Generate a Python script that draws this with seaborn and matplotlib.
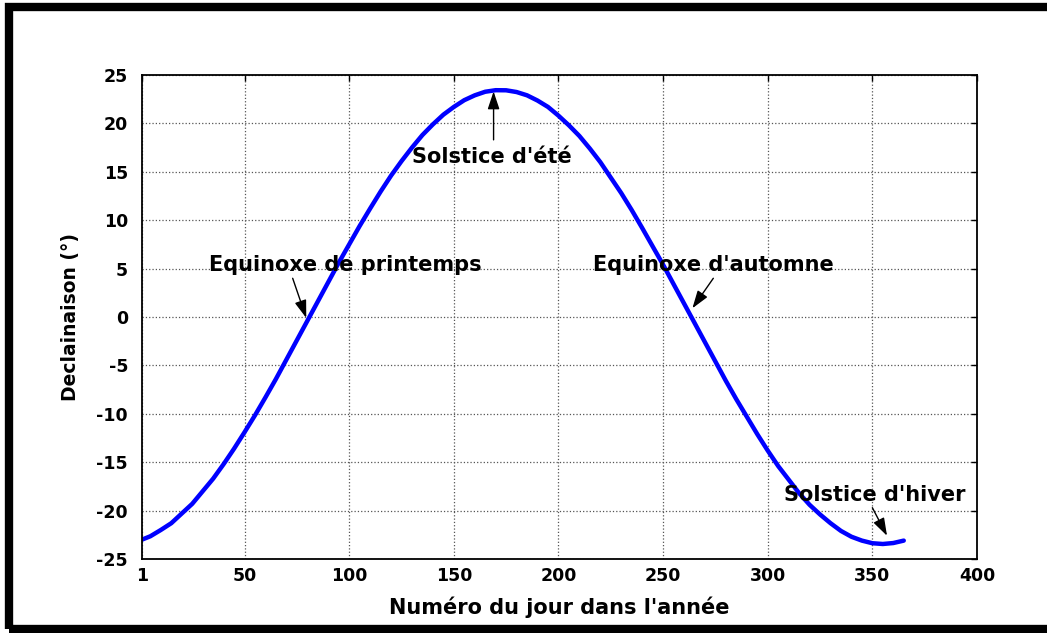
import matplotlib
matplotlib.use("Agg")
import matplotlib.pyplot as plt
import seaborn as sns
import pandas as pd
from matplotlib.patches import Rectangle

# Data (day of year, declination in degrees)
days = [1, 5, 10, 15, 20, 25, 30, 35, 40, 45, 50, 55, 60, 65, 70, 75, 80, 85,
        90, 95, 100, 105, 110, 115, 120, 125, 130, 135, 140, 145, 150, 155,
        160, 165, 170, 175, 180, 185, 190, 195, 200, 205, 210, 215, 220, 225,
        230, 235, 240, 245, 250, 255, 260, 265, 270, 275, 280, 285, 290, 295,
        300, 305, 310, 315, 320, 325, 330, 335, 340, 345, 350, 355, 360, 365]
declination = [-23.0, -22.65, -22.0, -21.3, -20.3, -19.3, -18.0, -16.7, -15.2,
               -13.6, -11.9, -10.15, -8.3, -6.4, -4.4, -2.4, -0.4, 1.6,
               3.6, 5.6, 7.5, 9.4, 11.2, 12.95, 14.6, 16.1, 17.5, 18.8, 19.9,
               20.9, 21.7, 22.4, 22.9, 23.27, 23.43, 23.42, 23.24, 22.9, 22.36,
               21.7, 20.8, 19.8, 18.7, 17.4, 16.0, 14.4,
               12.8, 11.05, 9.2, 7.3, 5.4, 3.4, 1.4, -0.6, -2.6, -4.6, -6.6,
               -8.5, -10.3, -12.1,
               -13.8, -15.4, -16.8, -18.2, -19.4, -20.4, -21.3, -22.1, -22.7,
               -23.1, -23.37, -23.45, -23.35, -23.1]
x_ticks = [1, 50, 100, 150, 200, 250, 300, 350, 400]
y_ticks = [-25, -20, -15, -10, -5, 0, 5, 10, 15, 20, 25]

ann_labels = ["Equinoxe de printemps", "Solstice d'été", "Equinoxe d'automne", "Solstice d'hiver"]
ann_text_xy = [(33, 5.4), (168, 16.5), (274, 5.4), (351, -18.4)]
ann_ha = ['left', 'center', 'center', 'center']
ann_tip_xy = [(79.5, -0.1), (169, 23.3), (264, 0.9), (357, -22.6)]
ann_tail_xy = [(73, 4.0), (169, 18.3), (274, 4.0), (350, -19.7)]

df = pd.DataFrame({"jour": days, "decl": declination})

sns.set_theme(style="white")
plt.rcParams['font.family'] = ['DejaVu Sans']
plt.rcParams['text.color'] = 'black'
plt.rcParams['axes.labelcolor'] = 'black'
plt.rcParams['xtick.color'] = 'black'
plt.rcParams['ytick.color'] = 'black'

fig = plt.figure(figsize=(10.47, 6.33), dpi=100)
ax = fig.add_axes([142/1047, 1 - 559/633, (977-142)/1047, (559-75)/633])

sns.lineplot(data=df, x="jour", y="decl", ax=ax, color="#0000ff", linewidth=3.2)

ax.set_xlim(1, 400)
ax.set_ylim(-25, 25)
ax.set_xticks(x_ticks)
ax.set_yticks(y_ticks)
ax.set_xticklabels([str(t) for t in x_ticks], fontsize=12.5, fontweight='bold')
ax.set_yticklabels([str(t) for t in y_ticks], fontsize=12.5, fontweight='bold')
ax.tick_params(direction='in', length=4, width=1, top=True, right=True,
               colors='black')
ax.tick_params(axis='x', pad=6)
ax.tick_params(axis='y', pad=10)
ax.grid(True, linestyle=':', color='#555555', linewidth=0.9)
for s in ax.spines.values():
    s.set_color('black')
    s.set_linewidth(1.3)

ax.set_xlabel("Numéro du jour dans l'année", fontsize=15, fontweight='bold',
              labelpad=8, color='black')
ax.set_ylabel("Declainaison (°)", fontsize=13.5, fontweight='bold', labelpad=12,
              color='black')

for lab, txy, ha, tip, tail in zip(ann_labels, ann_text_xy, ann_ha, ann_tip_xy, ann_tail_xy):
    ax.text(txy[0], txy[1], lab, ha=ha, va='center', fontsize=15,
            fontweight='bold', color='black')
    ax.annotate("", xy=tip, xytext=tail,
                arrowprops=dict(arrowstyle='-|>,head_length=0.9,head_width=0.3',
                                color='black', lw=1.0, shrinkA=0, shrinkB=0))

# thick figure border (top, left, bottom)
fig.patches.append(Rectangle((9/1047, 4/633), 1.05, 1 - 11/633, transform=fig.transFigure,
                             fill=False, edgecolor='black', linewidth=6, zorder=10))

fig.savefig("out.png", dpi=100)
